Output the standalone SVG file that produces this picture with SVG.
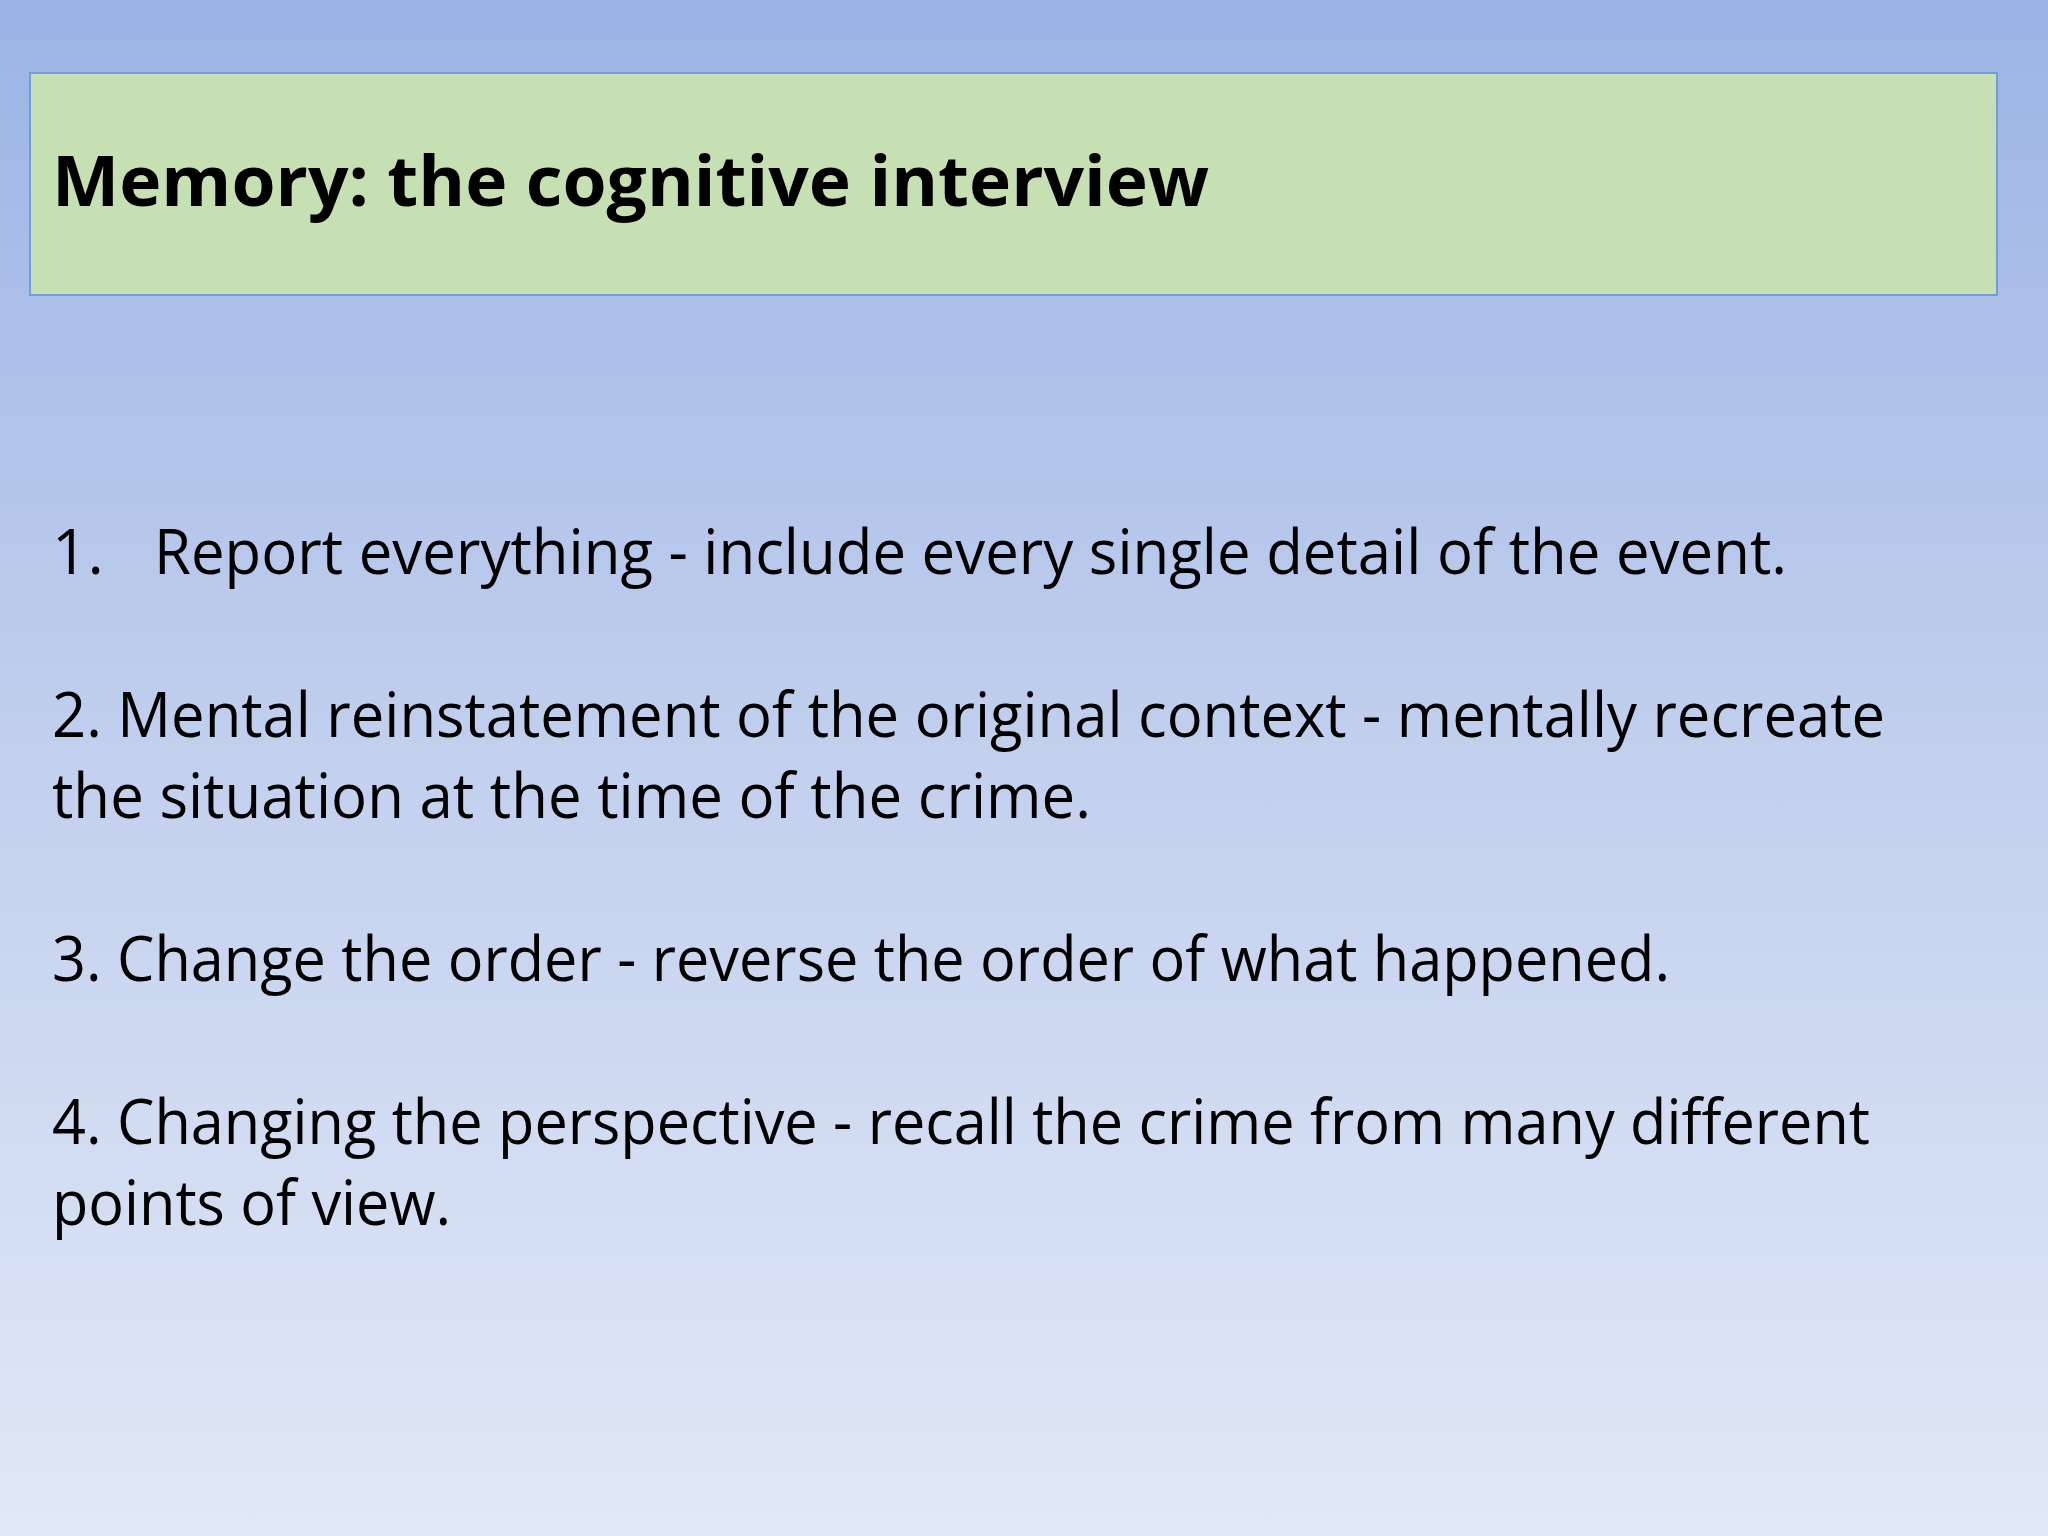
<svg xmlns="http://www.w3.org/2000/svg" width="2048" height="1536" viewBox="0 0 2048 1536">
<defs>
<linearGradient id="bg" x1="0" y1="0" x2="0" y2="1">
<stop offset="0" stop-color="#9bb3e5"/>
<stop offset="0.5" stop-color="#c3d0ee"/>
<stop offset="1" stop-color="#e1e8f6"/>
</linearGradient>
<style>
.t{font-family:"Open Sans","Liberation Sans",sans-serif;fill:#000}
.b{font-size:62px}
</style>
</defs>
<rect width="2048" height="1536" fill="url(#bg)"/>
<g id="title">
<rect x="30" y="73" width="1967" height="222" fill="#c6e0b4" stroke="#6f9fd6" stroke-width="2"/>
<text class="t" x="52" y="206" font-size="70" font-weight="bold" textLength="1157" lengthAdjust="spacingAndGlyphs">Memory: the cognitive interview</text>
</g>
<g id="body">
<text class="t b" x="52" y="574">1.</text>
<text class="t b" x="154" y="574" textLength="1633" lengthAdjust="spacingAndGlyphs">Report everything - include every single detail of the event.</text>
<text class="t b" x="52" y="737" textLength="1833" lengthAdjust="spacingAndGlyphs">2. Mental reinstatement of the original context - mentally recreate</text>
<text class="t b" x="52" y="818" textLength="1039" lengthAdjust="spacingAndGlyphs">the situation at the time of the crime.</text>
<text class="t b" x="52" y="981" textLength="1618" lengthAdjust="spacingAndGlyphs">3. Change the order - reverse the order of what happened.</text>
<text class="t b" x="52" y="1144" textLength="1818" lengthAdjust="spacingAndGlyphs">4. Changing the perspective - recall the crime from many different</text>
<text class="t b" x="52" y="1225" textLength="399" lengthAdjust="spacingAndGlyphs">points of view.</text>
</g>
</svg>
